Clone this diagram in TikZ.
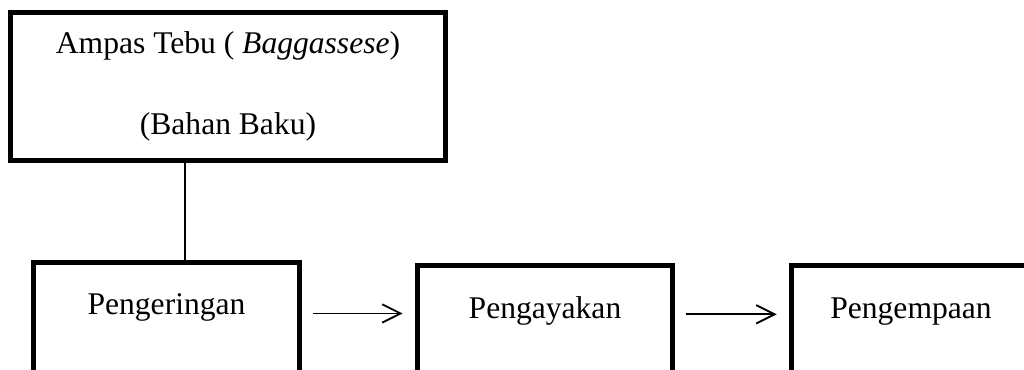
\documentclass[tikz,border=0pt]{standalone}
\usepackage{fontspec}
\setmainfont{Liberation Serif}
\usetikzlibrary{arrows.meta}
\usetikzlibrary{positioning}
\begin{document}
\begin{tikzpicture}[x=0.38pt, y=-0.38pt,
		box/.style={rectangle, draw, line width=1.9pt, inner sep=0pt, font=\fontsize{12}{31}\selectfont},
		step box/.style={box, anchor=north, text height=20pt, text depth=60pt},
		flow/.style={line width=0.7pt, -{Straight Barb[length=7pt, width=7pt, line width=0.7pt]}, shorten <=4pt, shorten >=4.7pt}]
				\clip (0,0) rectangle (1024,369);
				\node[box, align=center, minimum width=165.3pt, minimum height=56.2pt] (BahanBaku) at (228,86.5) {Ampas Tebu ( \textit{Baggassese})\\(Bahan Baku)};
				\node[step box, minimum width=101.1pt] (Pengeringan) at (166.5,259.5) {Pengeringan};
				\node[step box, minimum width=96.9pt] (Pengayakan) at (545,263) {Pengayakan};
				\node[step box, minimum width=90.8pt] (Pengempaan) at (911,263) {Pengempaan};
				\coordinate (Masuk) at ([xshift=7pt]Pengeringan.north);
				\draw[line width=0.75pt] (Masuk |- BahanBaku.south) -- (Masuk);
				\coordinate (Keluar1) at ([yshift=-20.5pt]Pengeringan.north east);
				\coordinate (Keluar2) at ([yshift=-19.5pt]Pengayakan.north east);
				\draw[flow] (Keluar1) -- (Keluar1 -| Pengayakan.west);
				\draw[flow] (Keluar2) -- (Keluar2 -| Pengempaan.west);
			\end{tikzpicture}
\end{document}
